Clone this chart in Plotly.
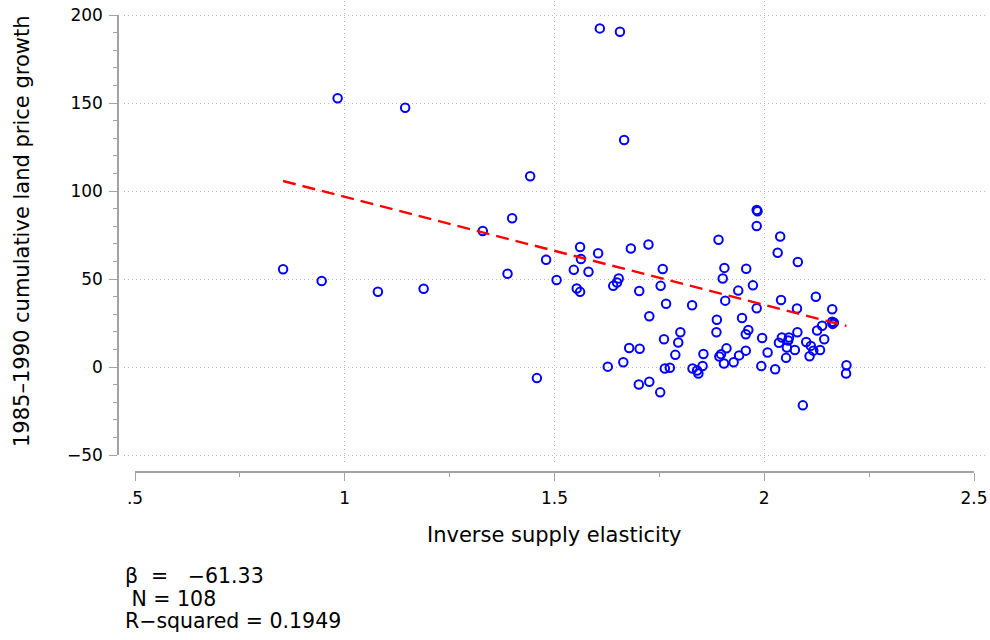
import plotly.graph_objects as go

# ---- data ----
elasticity = [
    0.853, 0.945, 0.983, 1.079, 1.144, 1.188, 1.329, 1.388, 1.399, 1.442,
    1.458, 1.480, 1.505, 1.546, 1.561, 1.563, 1.553, 1.561, 1.581, 1.604,
    1.608, 1.656, 1.666, 1.682, 1.640, 1.649, 1.653, 1.702, 1.724, 1.758,
    1.753, 1.766, 1.828, 1.726, 1.800, 1.761, 1.795, 1.678, 1.703, 1.788,
    1.664, 1.627, 1.763, 1.775, 1.701, 1.726, 1.752, 1.829, 1.840, 1.843,
    1.853, 1.855, 1.982, 1.984, 1.982, 1.891, 2.038, 2.032, 2.080, 1.905,
    1.957, 1.901, 1.973, 1.938, 2.123, 1.907, 2.040, 1.982, 2.078, 2.162,
    1.887, 1.947, 2.162, 2.166, 2.163, 2.138, 2.126, 1.886, 1.962, 1.956,
    2.079, 1.995, 2.042, 2.059, 2.057, 2.035, 2.054, 2.100, 2.111, 2.143,
    2.117, 2.133, 2.073, 2.108, 2.052, 2.008, 1.956, 1.910, 1.897, 1.893,
    1.940, 1.927, 1.904, 1.993, 2.026, 2.196, 2.195, 2.092,
]
price_growth = [
    55.5, 48.9, 152.7, 42.8, 147.3, 44.5, 77.3, 53.0, 84.5, 108.4,
    -6.3, 60.9, 49.4, 55.2, 68.2, 61.4, 44.6, 42.7, 54.1, 64.6,
    192.4, 190.5, 129.0, 67.3, 46.1, 48.0, 50.3, 43.2, 69.6, 55.7,
    46.1, 35.9, 35.1, 28.8, 19.7, 15.8, 13.9, 10.8, 10.4, 6.9,
    2.7, 0.2, -0.9, -0.4, -9.9, -8.4, -14.4, -0.9, -2.0, -3.7,
    0.6, 7.4, 89.2, 88.5, 80.1, 72.3, 74.1, 64.9, 59.7, 56.3,
    55.8, 50.3, 46.4, 43.4, 39.9, 37.7, 38.1, 33.4, 33.2, 32.8,
    26.8, 27.8, 25.7, 25.2, 24.5, 23.4, 20.7, 19.7, 21.0, 18.6,
    19.7, 16.5, 16.8, 16.8, 15.1, 13.8, 11.1, 14.2, 12.0, 15.8,
    9.3, 9.7, 9.7, 6.1, 5.2, 8.2, 9.3, 10.6, 7.3, 6.0,
    6.6, 2.7, 2.0, 0.5, -1.3, 1.0, -3.7, -21.8,
]
beta = -61.33
intercept = 158.0
n_obs = 108
r_squared = 0.1949

x_tickvals = [0.5, 1.0, 1.5, 2.0, 2.5]
x_ticktext = [".5", "1", "1.5", "2", "2.5"]
y_tickvals = [-50, 0, 50, 100, 150, 200]

x_title = "Inverse supply elasticity"
y_title = "1985\u20131990 cumulative land price growth"

# ---- layout geometry (page pixels; body margin removed by post_script) ----
OFF = 0
FIG_W, FIG_H = 990 - OFF, 640 - OFF
PLOT_L, PLOT_R, PLOT_T, PLOT_B = 119, 988, 1, 471   # page pixels
L = PLOT_L - OFF
R = FIG_W - (PLOT_R - OFF)
T = PLOT_T - OFF
B = FIG_H - (PLOT_B - OFF)
W = FIG_W - L - R
H = FIG_H - T - B
FONT = "DejaVu Sans"
AXC = "#a3a3a3"


def fx(px):
    return (px - PLOT_L) / W


def fy(py):
    return (PLOT_B - py) / H


fit_x = [min(elasticity), max(elasticity)]
fit_y = [intercept + beta * v for v in fit_x]

fig = go.Figure()
fig.add_trace(go.Scatter(
    x=elasticity, y=price_growth, mode="markers",
    marker=dict(symbol="circle-open", size=8.5, color="#0000ff",
                line=dict(width=2, color="#0000ff")),
    showlegend=False, xaxis="x", yaxis="y"))
fig.add_trace(go.Scatter(
    x=fit_x, y=fit_y, mode="lines",
    line=dict(color="#ff0000", width=2.4, dash="13px,7px"),
    showlegend=False, xaxis="x", yaxis="y"))
# empty traces so the axis-only subplots get drawn
fig.add_trace(go.Scatter(x=[None], y=[None], xaxis="x2", yaxis="y2",
                         showlegend=False, hoverinfo="skip"))
fig.add_trace(go.Scatter(x=[None], y=[None], xaxis="x3", yaxis="y3",
                         showlegend=False, hoverinfo="skip"))

# main plot region: grid only
px_per_x = (974 - 135) / 2.0
px_per_y = (455 - 15) / 250.0
x_lo = 0.5 - (135 - 124) / px_per_x
x_hi = 2.5 + (PLOT_R - 974) / px_per_x
y_hi = 200 + (15 - PLOT_T) / px_per_y
y_lo = -50 - (465 - 455) / px_per_y

grid = dict(showgrid=True, gridcolor="#b8b8b8", gridwidth=1, griddash="1px,3px",
            zeroline=False, showline=False, ticks="", showticklabels=False,
            automargin=False)

fig.update_layout(
    template="none",
    width=FIG_W, height=FIG_H,
    margin=dict(l=L, r=R, t=T, b=B, pad=0, autoexpand=False),
    paper_bgcolor="white", plot_bgcolor="rgba(0,0,0,0)",
    font=dict(family=FONT, color="black"),
    showlegend=False,
    xaxis=dict(domain=[fx(124), 1], range=[x_lo, x_hi], anchor="y",
               tickmode="array", tickvals=[1.0, 1.5, 2.0], **grid),
    yaxis=dict(domain=[fy(465), 1], range=[y_lo, y_hi], anchor="x",
               tickmode="array", tickvals=y_tickvals, **grid),
    # y axis line with ticks
    xaxis2=dict(domain=[0, 1], range=[0, 1], anchor="y2", visible=False,
                automargin=False),
    yaxis2=dict(domain=[fy(455), fy(15)], range=[-50, 200], anchor="x2",
                automargin=False, ticklabeloverflow="allow",
                showgrid=False, zeroline=False, showline=True, linecolor=AXC,
                linewidth=1.5, ticks="outside", ticklen=8, tickwidth=1.2,
                tickcolor=AXC, tickmode="array", tickvals=y_tickvals,
                ticklabelstandoff=3,
                tickfont=dict(family=FONT, size=17, color="black"),
                minor=dict(tickmode="linear", tick0=-50, dtick=10, ticks="outside",
                           ticklen=4, tickcolor=AXC, tickwidth=1.2, showgrid=False)),
    # x axis line with ticks
    xaxis3=dict(domain=[fx(135), fx(974)], range=[0.5, 2.5], anchor="y3",
                automargin=False, ticklabeloverflow="allow",
                showgrid=False, zeroline=False, showline=True, linecolor=AXC,
                linewidth=1.5, ticks="outside", ticklen=8, tickwidth=1.2,
                tickcolor=AXC, tickmode="array", tickvals=x_tickvals,
                ticktext=x_ticktext, ticklabelstandoff=3,
                tickfont=dict(family=FONT, size=17, color="black"),
                minor=dict(tickmode="array", tickvals=[0.75, 1.25, 1.75, 2.25],
                           ticks="outside", ticklen=4, tickcolor=AXC,
                           tickwidth=1.2, showgrid=False)),
    yaxis3=dict(domain=[0, 0.01], range=[0, 1], anchor="x3", visible=False,
                automargin=False),
)

ann = []
ann.append(dict(text=y_title, x=fx(22), y=fy(231), textangle=-90,
                xanchor="center", yanchor="middle", font=dict(size=21)))
ann.append(dict(text=x_title, x=fx(554), y=fy(535),
                xanchor="center", yanchor="middle", font=dict(size=21)))
nb = "\u00a0"
stats = [
    ("\u03b2" + nb * 2 + "=" + nb * 3 + f"{beta:.2f}".replace("-", "\u2212"), 576),
    (nb + "N = " + str(n_obs), 599),
    ("R\u2212squared = " + f"{r_squared:.4f}", 621),
]
for txt, ypix in stats:
    ann.append(dict(text=txt, x=fx(123), y=fy(ypix), xanchor="left",
                    yanchor="middle", font=dict(size=20.5)))
for a in ann:
    a.update(xref="paper", yref="paper", showarrow=False)
fig.update_layout(annotations=ann)

fig.write_html("out.html",
               config={"displayModeBar": False},
               post_script="document.body.style.margin='0px';"
                           "document.body.style.overflow='hidden';")
